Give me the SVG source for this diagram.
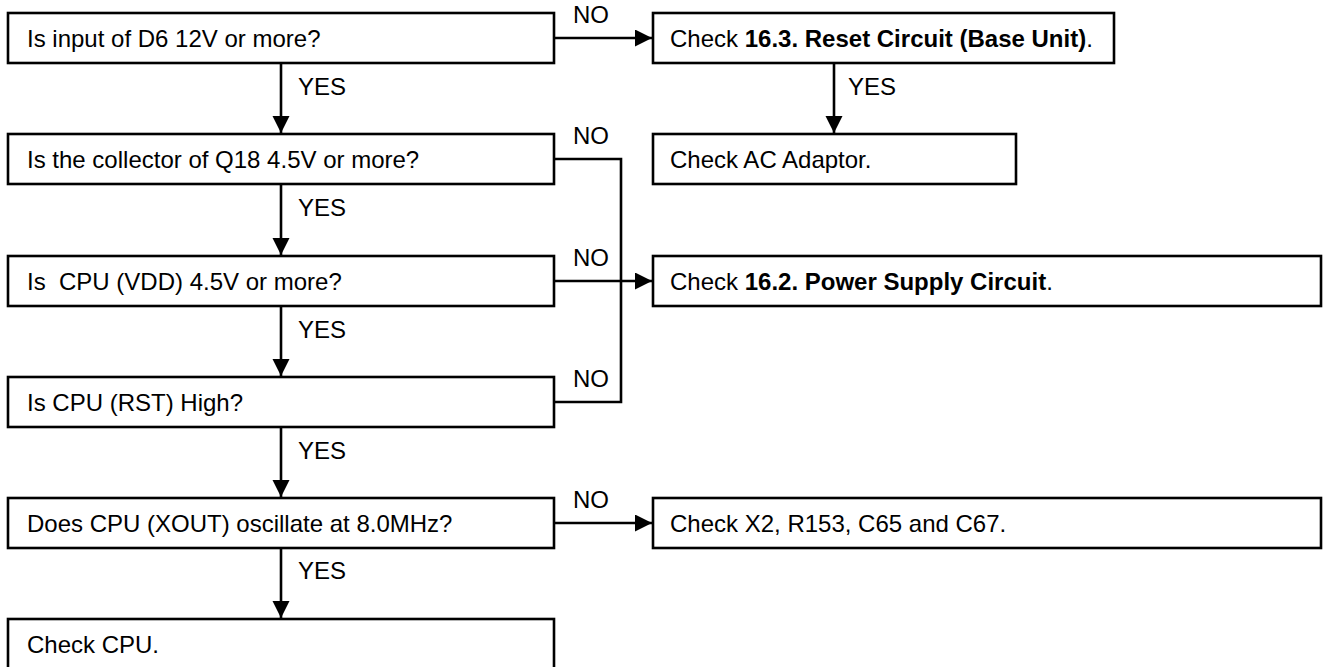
<svg xmlns="http://www.w3.org/2000/svg" width="1326" height="667" viewBox="0 0 1326 667">
<style>
.box{fill:#fff;stroke:#000;stroke-width:2.6}
.t{font-family:"Liberation Sans",Arial,sans-serif;font-size:24px;fill:#000}
.b{font-weight:bold}
.c{fill:none;stroke:#000;stroke-width:2.6}
</style>
<defs>
<marker id="ah" markerUnits="userSpaceOnUse" markerWidth="18" markerHeight="18" refX="17" refY="8.5" orient="auto">
<path d="M0,0 L17,8.5 L0,17 z" fill="#000"/>
</marker>
</defs>
<rect width="1326" height="667" fill="#fff"/>
<g id="connectors">
<line class="c" x1="554" y1="38" x2="652" y2="38" marker-end="url(#ah)"/>
<line class="c" x1="281" y1="63" x2="281" y2="133" marker-end="url(#ah)"/>
<line class="c" x1="834" y1="63" x2="834" y2="133" marker-end="url(#ah)"/>
<line class="c" x1="281" y1="184" x2="281" y2="255" marker-end="url(#ah)"/>
<path class="c" d="M554 159 H621 V402 H554"/>
<line class="c" x1="554" y1="281" x2="652" y2="281" marker-end="url(#ah)"/>
<line class="c" x1="281" y1="306" x2="281" y2="376" marker-end="url(#ah)"/>
<line class="c" x1="281" y1="427" x2="281" y2="497" marker-end="url(#ah)"/>
<line class="c" x1="554" y1="523" x2="652" y2="523" marker-end="url(#ah)"/>
<line class="c" x1="281" y1="548" x2="281" y2="618" marker-end="url(#ah)"/>
<text class="t" x="573" y="23">NO</text>
<text class="t" x="298" y="95">YES</text>
<text class="t" x="848" y="95">YES</text>
<text class="t" x="573" y="144">NO</text>
<text class="t" x="298" y="216">YES</text>
<text class="t" x="573" y="266">NO</text>
<text class="t" x="298" y="338">YES</text>
<text class="t" x="573" y="387">NO</text>
<text class="t" x="298" y="459">YES</text>
<text class="t" x="573" y="508">NO</text>
<text class="t" x="298" y="579">YES</text>
</g>
<g id="n1"><rect class="box" x="8" y="13" width="546" height="50"/><text class="t" x="27" y="47">Is input of D6 12V or more?</text></g>
<g id="n2"><rect class="box" x="8" y="134" width="546" height="50"/><text class="t" x="27" y="168">Is the collector of Q18 4.5V or more?</text></g>
<g id="n3"><rect class="box" x="8" y="256" width="546" height="50"/><text class="t" x="27" y="290" xml:space="preserve">Is  CPU (VDD) 4.5V or more?</text></g>
<g id="n4"><rect class="box" x="8" y="377" width="546" height="50"/><text class="t" x="27" y="411">Is CPU (RST) High?</text></g>
<g id="n5"><rect class="box" x="8" y="498" width="546" height="50"/><text class="t" x="27" y="532">Does CPU (XOUT) oscillate at 8.0MHz?</text></g>
<g id="n6"><rect class="box" x="8" y="619" width="546" height="50"/><text class="t" x="27" y="653">Check CPU.</text></g>
<g id="r1"><rect class="box" x="653" y="13" width="461" height="50"/><text class="t" x="670" y="47">Check <tspan class="b">16.3. Reset Circuit (Base Unit)</tspan>.</text></g>
<g id="r2"><rect class="box" x="653" y="134" width="363" height="50"/><text class="t" x="670" y="168">Check AC Adaptor.</text></g>
<g id="r3"><rect class="box" x="653" y="256" width="668" height="50"/><text class="t" x="670" y="290">Check <tspan class="b">16.2. Power Supply Circuit</tspan>.</text></g>
<g id="r5"><rect class="box" x="653" y="498" width="668" height="50"/><text class="t" x="670" y="532">Check X2, R153, C65 and C67.</text></g>
</svg>
